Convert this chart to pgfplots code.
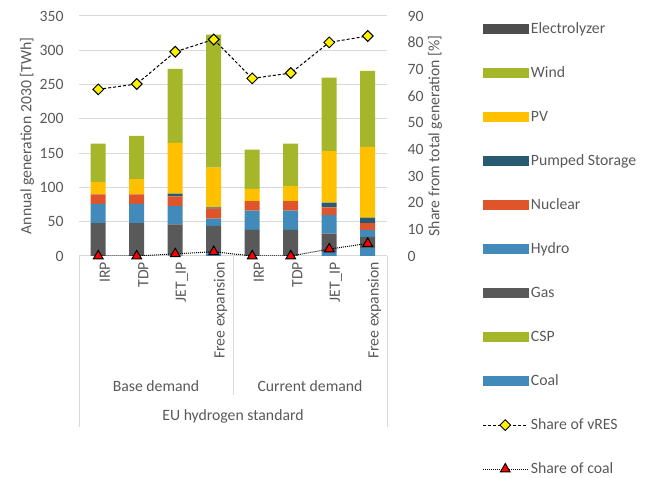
\documentclass[border=0pt]{standalone}
\usepackage{fontspec}
\setmainfont{Carlito}
\usepackage{pgfplots}
\usepackage{pgfplotstable}
\pgfplotsset{compat=1.18}

\definecolor{txt}{HTML}{595959}
\definecolor{gridc}{HTML}{D9D9D9}
\definecolor{cGas}{HTML}{595959}
\definecolor{cHydro}{HTML}{418AB9}
\definecolor{cWind}{HTML}{A5B62A}
\definecolor{cPV}{HTML}{FFC000}
\definecolor{cPS}{HTML}{265B72}
\definecolor{cNuc}{HTML}{E0542A}
\definecolor{cEly}{HTML}{4D4D4D}

\newcommand\f{\fontsize{11.8pt}{13pt}\selectfont}
\newcommand\barlegend[1]{\addlegendimage{legend image code/.code={\fill[#1] (0pt,-3.4pt) rectangle (33.75pt,3.4pt);}}}

% annual generation [TWh] and shares [%]
\pgfplotstableread{
x coal csp gas hydro nuclear ps pv wind vres coalsh
0 0 0 48 28 14 0 18 56 62.5 0
1 0 0 48 28 14 0 22 63 64.5 0
2 1 1 44 27 14 4 74 108 76.6 0.8
3 4 0 40 10.5 14.5 2 58 194 81.2 1.6
4 0 0 38 28 14 0 18 57 66.6 0
5 0 0 38 28 14 0 22 62 68.6 0
6 6 0 26.5 27 11.5 7 75 107 80.1 2.6
7 12 0 16 10 10 8 103 111 82.5 4.7
}\gen

\pgfplotsset{/pgf/number format/assume math mode=true}

\begin{document}
\begin{tikzpicture}[x=0.75pt,y=0.75pt]
\path[use as bounding box] (0,0) rectangle (650,478);

\begin{axis}[
    at={(59.25pt,166.5pt)}, anchor=south west,
    scale only axis, width=231pt, height=180pt,
    ybar stacked, bar width=11.25pt,
    xmin=-0.5, xmax=7.5, ymin=0, ymax=350,
    ytick={0,50,...,350},
    xtick={0,...,7},
    xticklabels={IRP,TDP,JET\_IP,Free expansion,IRP,TDP,JET\_IP,Free expansion},
    axis line style={draw=none},
    major tick length=0pt,
    ymajorgrids, grid style={gridc, line width=0.75pt},
    tick label style={txt, font=\f},
    xticklabel style={rotate=90, anchor=east, yshift=-5pt, xshift=-1pt},
    yticklabel style={xshift=-8pt},
    ylabel={Annual generation 2030 [TWh]},
    ylabel style={txt, font=\f, at={(axis description cs:-0.169,0.5)}, anchor=center},
]
\addplot[fill=cHydro, draw=none] table[x=x,y=coal]{\gen};
\addplot[fill=cWind, draw=none] table[x=x,y=csp]{\gen};
\addplot[fill=cGas, draw=none] table[x=x,y=gas]{\gen};
\addplot[fill=cHydro, draw=none] table[x=x,y=hydro]{\gen};
\addplot[fill=cNuc, draw=none] table[x=x,y=nuclear]{\gen};
\addplot[fill=cPS, draw=none] table[x=x,y=ps]{\gen};
\addplot[fill=cPV, draw=none] table[x=x,y=pv]{\gen};
\addplot[fill=cWind, draw=none] table[x=x,y=wind]{\gen};
\end{axis}

\begin{axis}[
    at={(59.25pt,166.5pt)}, anchor=south west,
    scale only axis, width=231pt, height=180pt,
    xmin=-0.5, xmax=7.5, ymin=0, ymax=90,
    ytick={0,10,...,90}, xtick=\empty,
    yticklabel pos=right,
    axis line style={draw=none},
    major tick length=0pt,
    tick label style={txt, font=\f},
    yticklabel style={anchor=west, xshift=12pt},
    ylabel={Share from total generation [\%]},
    ylabel style={txt, font=\f, at={(axis description cs:1.156,0.5)}, anchor=center},
    legend cell align=left,
    legend image code/.code={\draw[mark repeat=2,mark phase=2,#1] plot coordinates {(0pt,0pt) (16.875pt,0pt) (33.75pt,0pt)};},
    legend style={at={(axis description cs:1.2955,0.995)}, anchor=north west,
        draw=none, fill=none, font=\f, text=txt, row sep=19.5pt,
        nodes={text height=8pt, text depth=1.5pt, inner sep=2pt},
        /tikz/every even column/.append style={column sep=1pt}},
]
\barlegend{cEly}\addlegendentry{Electrolyzer}
\barlegend{cWind}\addlegendentry{Wind}
\barlegend{cPV}\addlegendentry{PV}
\barlegend{cPS}\addlegendentry{Pumped Storage}
\barlegend{cNuc}\addlegendentry{Nuclear}
\barlegend{cHydro}\addlegendentry{Hydro}
\barlegend{cGas}\addlegendentry{Gas}
\barlegend{cWind}\addlegendentry{CSP}
\barlegend{cHydro}\addlegendentry{Coal}
\addplot[black, line width=0.75pt, dash pattern=on 2.25pt off 1.5pt,
    mark=square*, mark size=2.85pt,
    mark options={rotate=45, solid, fill=yellow, draw=black, line width=0.75pt}]
    table[x=x,y=vres]{\gen};
\addlegendentry{Share of vRES}
\addplot[black, line width=0.75pt, dash pattern=on 0.75pt off 0.75pt,
    mark=triangle*, mark size=4.2pt,
    mark options={solid, fill=red, draw=black, line width=0.75pt}]
    table[x=x,y=coalsh]{\gen};
\addlegendentry{Share of coal}
\end{axis}

\draw[gridc, line width=0.75pt] (79,222) -- (79,51);
\draw[gridc, line width=0.75pt] (233,222) -- (233,83);
\draw[gridc, line width=0.75pt] (387,222) -- (387,51);
\node[txt, font=\f] at (156,92) {Base demand};
\node[txt, font=\f] at (310,92) {Current demand};
\node[txt, font=\f] at (233,62) {EU hydrogen standard};
\end{tikzpicture}
\end{document}
